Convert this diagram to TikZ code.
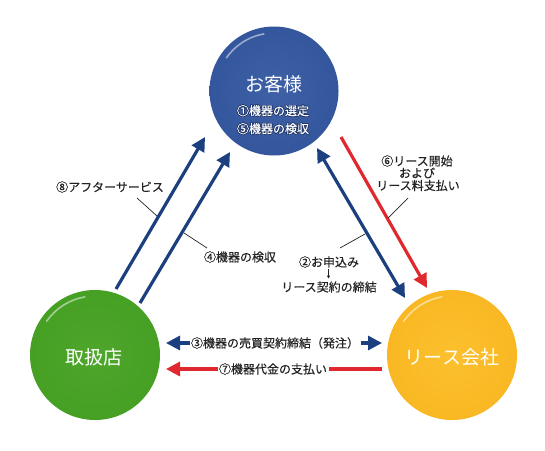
\documentclass[tikz,border=0pt]{standalone}
\usepackage{fontspec}
\setmainfont{Noto Sans CJK JP}
\newfontfamily\lblfont{Noto Sans CJK JP}[FakeBold=0.25]
\usepackage[copies]{contour}
\contourlength{0.6pt}
\usetikzlibrary{arrows.meta}
\definecolor{navy}{HTML}{1B3F7F}
\definecolor{redarrow}{HTML}{E0292E}
\definecolor{custblue}{HTML}{3D60A7}
\definecolor{custdark}{HTML}{34569C}
\definecolor{dealergreen}{HTML}{4EA62B}
\definecolor{dealerdark}{HTML}{46A024}
\definecolor{leaseyellow}{HTML}{FCC02E}
\definecolor{leasedark}{HTML}{F9B823}
\definecolor{labelgray}{HTML}{222222}
\definecolor{outline}{HTML}{23386A}
\tikzset{
  ball/.style={circle, minimum size=130pt, inner sep=0pt},
  bigname/.style={text=white, font=\fontsize{19}{21}\selectfont, inner sep=0pt},
  subname/.style={text=white, font=\lblfont\fontsize{12}{13}\selectfont, inner sep=0pt},
  lbl/.style={text=labelgray, font=\lblfont\fontsize{12}{13}\selectfont, inner sep=0pt},
  lblw/.style={lbl, fill=white, inner xsep=1.5pt, inner ysep=1pt},
  navyarrow/.style={draw=navy, line width=3.2pt, -{Triangle[length=14pt,width=14pt]}},
  navydouble/.style={draw=navy, line width=3.2pt, {Triangle[length=14pt,width=14pt]}-{Triangle[length=14pt,width=14pt]}},
  redarr/.style={draw=redarrow, line width=3.2pt, -{Triangle[length=14pt,width=14pt]}},
  leader/.style={draw=labelgray, line width=0.7pt},
  gloss/.style={draw=white, line width=1.6pt, opacity=0.5, line cap=round}
}
\begin{document}
\begin{tikzpicture}[x=1pt,y=-1pt]
\useasboundingbox (0,0) rectangle (545,450);

% circles
\shade[inner color=custblue, outer color=custdark] (274,91) circle (64.5);
\node[ball] (cust) at (274,91) {};
\shade[inner color=dealergreen, outer color=dealerdark] (95,355) circle (65);
\node[ball] (dealer) at (95,355) {};
\shade[inner color=leaseyellow, outer color=leasedark] (452,355) circle (65);
\node[ball] (lease) at (452,355) {};

% gloss highlights (upper left)
\draw[gloss] (274,91) ++(-145:58) arc[start angle=-145, end angle=-100, radius=58];
\draw[gloss] (95,355) ++(-145:59) arc[start angle=-145, end angle=-100, radius=59];
\draw[gloss] (452,355) ++(-145:59) arc[start angle=-145, end angle=-100, radius=59];

% circle texts
\node[bigname] (custname) at (274,84) {お客様};
\node[subname] (cust1) at (273,111) {\contour{outline}{①機器の選定}};
\node[subname] (cust5) at (273,129) {\contour{outline}{⑤機器の検収}};
\node[bigname] (dealername) at (94,357) {取扱店};
\node[bigname] (leasename) at (452,357) {リース会社};

% arrow end points
\coordinate (a8s) at (116,289);
\coordinate (a8e) at (205,137);
\coordinate (a4s) at (140,303);
\coordinate (a4e) at (230,152);
\coordinate (a2s) at (317,148);
\coordinate (a2e) at (405,298);
\coordinate (a6s) at (341,137);
\coordinate (a6e) at (427,288);
\coordinate (a3s) at (166,343);
\coordinate (a3e) at (382,343);
\coordinate (a7s) at (382,369);
\coordinate (a7e) at (166,369);

\draw[navyarrow] (a8s) -- (a8e);
\draw[navyarrow] (a4s) -- (a4e);
\draw[navydouble] (a2s) -- (a2e);
\draw[redarr] (a6s) -- (a6e);
\draw[navydouble] (a3s) -- (a3e);
\draw[redarr] (a7s) -- (a7e);

% labels
\node[lbl] (l8) at (110,187) {⑧アフターサービス};
\node[lbl] (l4) at (240,257) {④機器の検収};
\node[lbl] (l6a) at (417,161) {⑥リース開始};
\node[lbl] (l6b) at (417,173) {および};
\node[lbl] (l6c) at (418,185.5) {リース料支払い};
\node[lbl] (l2a) at (329,262) {②お申込み};
\node[lbl] (l2b) at (329,287) {リース契約の締結};
\node[lblw] (l3) at (275,343) {③機器の売買契約締結（発注）};
\node[lblw] (l7) at (273,369) {⑦機器代金の支払い};

% leaders
\coordinate (k8a) at (137,198);
\coordinate (k8b) at (157,216);
\coordinate (k4a) at (184,233);
\coordinate (k4b) at (207,248);
\coordinate (k6a) at (408,198);
\coordinate (k6b) at (388,218);
\coordinate (k2a) at (340,248);
\coordinate (k2b) at (365,234);
\draw[leader] (k8a) -- (k8b);
\draw[leader] (k4a) -- (k4b);
\draw[leader] (k6a) -- (k6b);
\draw[leader] (k2a) -- (k2b);

% small down arrow
\coordinate (sd1) at (328.5,268.5);
\coordinate (sd2) at (328.5,278.5);
\draw[draw=labelgray, line width=0.5pt, -{Triangle[length=3pt,width=3pt]}] (sd1) -- (sd2);
\end{tikzpicture}
\end{document}
